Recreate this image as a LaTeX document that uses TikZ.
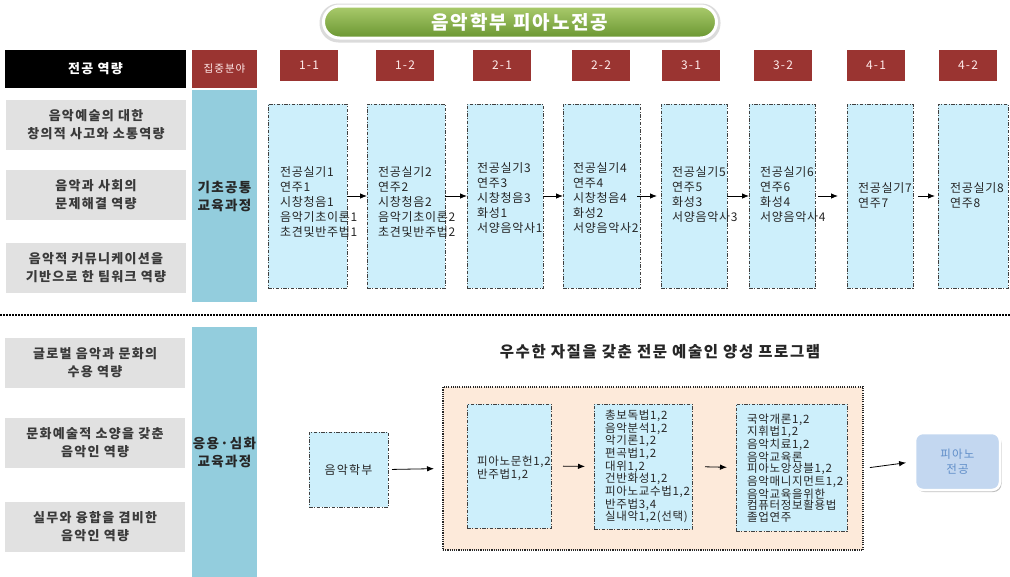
\documentclass[tikz,border=0pt]{standalone}
\usepackage{fontspec}
\setmainfont{Noto Sans CJK KR}
\newfontfamily\ksp[LetterSpace=10]{Noto Sans CJK KR}
\newfontfamily\kcell[LetterSpace=6]{Noto Sans CJK KR}
\usetikzlibrary{arrows.meta,shadows}
\definecolor{hdrred}{HTML}{9A3431}
\definecolor{grayb}{HTML}{E1E1E1}
\definecolor{colblue}{HTML}{93CDDD}
\definecolor{cellblue}{HTML}{CDEFFB}
\definecolor{cream}{HTML}{FDEADA}
\definecolor{pianofill}{HTML}{C3D7F0}
\definecolor{pianotext}{HTML}{5F8DC8}
\definecolor{graytext}{HTML}{3A3A3A}
\definecolor{gtop}{HTML}{AACB6C}
\definecolor{gbot}{HTML}{6A9631}
\begin{document}
\begin{tikzpicture}[x=1pt,y=-1pt,
  every node/.style={inner sep=0pt, outer sep=0pt},
  hdr/.style={fill=hdrred, minimum width=58pt, minimum height=31pt, anchor=north west, text=white!92!red, font=\ksp\fontsize{12}{13}\selectfont},
  comp/.style={fill=grayb, minimum width=180pt, minimum height=50pt, anchor=north west, text=graytext, font=\ksp\bfseries\fontsize{13}{18}\selectfont, align=center},
  colb/.style={fill=colblue, minimum width=65pt, anchor=north west, text=black!85, font=\ksp\bfseries\fontsize{13.5}{18}\selectfont, align=center},
  dashdot/.style={draw=black!75, line width=0.6pt, dash pattern=on 3.5pt off 1.5pt on 1pt off 1.5pt},
  cell/.style={dashdot, fill=cellblue, anchor=north west, minimum height=184pt},
  celltxt/.style={anchor=west, align=left, text=black!85, font=\kcell\fontsize{12}{15}\selectfont},
  smalltxt/.style={anchor=west, align=left, text=black!85, font=\kcell\fontsize{11.5}{11.6}\selectfont},
  arr/.style={-{Latex[length=7pt,width=5.5pt]}, line width=0.8pt}
]
\useasboundingbox (0,0) rectangle (1010,576);
% title
\node[minimum width=401pt, minimum height=39pt, rounded corners=19pt, fill=black!14] (titleglow) at (520,23) {};
\node[minimum width=393pt, minimum height=32pt, rounded corners=16pt, top color=gtop, bottom color=gbot, draw=white, line width=3pt, text=white, font=\ksp\bfseries\fontsize{19}{20}\selectfont] (title) at (520,22) {음악학부 피아노전공};
% header row
\node[fill=black, minimum width=181pt, minimum height=38pt, anchor=north west, text=white, font=\ksp\bfseries\fontsize{13}{15}\selectfont] (hcomp) at (5,50) {전공 역량};
\node[hdr, minimum width=65pt, minimum height=38pt, font=\ksp\fontsize{10.5}{12}\selectfont] (hfocus) at (192,50) {집중분야};
\node[hdr] (s11) at (280,50) {1-1};
\node[hdr] (s12) at (376,50) {1-2};
\node[hdr] (s21) at (473,50) {2-1};
\node[hdr] (s22) at (572,50) {2-2};
\node[hdr] (s31) at (662,50) {3-1};
\node[hdr] (s32) at (754,50) {3-2};
\node[hdr] (s41) at (847,50) {4-1};
\node[hdr] (s42) at (939,50) {4-2};
% competencies upper
\node[comp] (c1) at (6,100) {음악예술의 대한\\창의적 사고와 소통역량};
\node[comp] (c2) at (6,170) {음악과 사회의\\문제해결 역량};
\node[comp] (c3) at (6,243) {음악적 커뮤니케이션을\\기반으로 한 팀워크 역량};
\node[colb, minimum height=212pt] (basic) at (192,90) {기초공통\\교육과정};
% separator
\coordinate (sepL) at (0,315);
\coordinate (sepR) at (1010,315);
\draw[line width=1.1pt, dash pattern=on 1.5pt off 1.5pt] (sepL) -- (sepR);
% competencies lower
\node[comp] (c4) at (5,338) {글로벌 음악과 문화의\\수용 역량};
\node[comp] (c5) at (5,418) {문화예술적 소양을 갖춘\\음악인 역량};
\node[comp] (c6) at (5,502) {실무와 융합을 겸비한\\음악인 역량};
\node[colb, minimum height=250pt] (adv) at (192,327) {응용·심화\\교육과정};
% semester cells
\node[cell, minimum width=79pt] (b1) at (268,104) {};
\node[cell, minimum width=78pt] (b2) at (367,104) {};
\node[cell, minimum width=76pt] (b3) at (467,104) {};
\node[cell, minimum width=77pt] (b4) at (563,104) {};
\node[cell, minimum width=66pt] (b5) at (661,104) {};
\node[cell, minimum width=66pt] (b6) at (749,104) {};
\node[cell, minimum width=66pt] (b7) at (847,104) {};
\node[cell, minimum width=70pt] (b8) at (938,104) {};
\node[celltxt] (t1) at (280,202) {전공실기1\\연주1\\시창청음1\\음악기초이론1\\초견및반주법1};
\node[celltxt] (t2) at (378,202) {전공실기2\\연주2\\시창청음2\\음악기초이론2\\초견및반주법2};
\node[celltxt] (t3) at (477,198) {전공실기3\\연주3\\시창청음3\\화성1\\서양음악사1};
\node[celltxt] (t4) at (573,198) {전공실기4\\연주4\\시창청음4\\화성2\\서양음악사2};
\node[celltxt] (t5) at (672,195) {전공실기5\\연주5\\화성3\\서양음악사3};
\node[celltxt] (t6) at (760,195) {전공실기6\\연주6\\화성4\\서양음악사4};
\node[celltxt] (t7) at (858,195) {전공실기7\\연주7};
\node[celltxt] (t8) at (950,195) {전공실기8\\연주8};
\draw[arr] (b1.east) -- (b2.west);
\draw[arr] (b2.east) -- (b3.west);
\draw[arr] (b3.east) -- (b4.west);
\draw[arr, shorten <=-3pt, shorten >=4pt] (b4.east) -- (b5.west);
\draw[arr] (b5.east) -- (b6.west);
\draw[arr, shorten <=3pt, shorten >=9pt] (b6.east) -- (b7.west);
\draw[arr, shorten <=5pt, shorten >=3pt] (b7.east) -- (b8.west);
% lower program
\node[font=\ksp\bfseries\fontsize{15.5}{17}\selectfont, text=black!85] (ptitle) at (660,352) {우수한 자질을 갖춘 전문 예술인 양성 프로그램};
\node[fill=cream, draw=black!85, line width=1.3pt, dash pattern=on 1.1pt off 1.1pt, minimum width=420pt, minimum height=163pt, anchor=north west] (prog) at (443,387) {};
\node[dashdot, fill=cellblue, minimum width=79pt, minimum height=75pt, anchor=north west, font=\ksp\fontsize{12}{15}\selectfont, text=black!85] (dept) at (309,432) {음악학부};
\node[dashdot, fill=cellblue, minimum width=84pt, minimum height=124pt, anchor=north west] (pa) at (467,404) {};
\node[dashdot, fill=cellblue, minimum width=98pt, minimum height=125pt, anchor=north west] (pb) at (594,404) {};
\node[dashdot, fill=cellblue, minimum width=111pt, minimum height=127pt, anchor=north west] (pc) at (736,404) {};
\node[smalltxt, font=\kcell\fontsize{11.5}{13.5}\selectfont] (ta) at (477,468.5) {피아노문헌1,2\\반주법1,2};
\node[smalltxt] (tb) at (605,466.5) {총보독법1,2\\음악분석1,2\\악기론1,2\\편곡법1,2\\대위1,2\\건반화성1,2\\피아노교수법1,2\\반주법3,4\\실내악1,2(선택)};
\node[smalltxt] (tc) at (747,468) {국악개론1,2\\지휘법1,2\\음악치료1,2\\음악교육론\\피아노앙상블1,2\\음악매니지먼트1,2\\음악교육을위한\\컴퓨터정보활용법\\졸업연주};
\node[minimum width=85pt, minimum height=57pt, rounded corners=8pt, fill=pianofill, draw=white, line width=2.5pt, drop shadow={shadow xshift=1.5pt, shadow yshift=-2pt, fill=black!45, opacity=0.55}, align=center, text=pianotext, font=\ksp\fontsize{11.5}{15}\selectfont, anchor=north west] (piano) at (915,433) {피아노\\전공};
\draw[arr, shorten <=4pt, shorten >=9pt] (dept.east) -- (prog.west);
\draw[arr, shorten <=12pt, shorten >=9pt] (pa.east) -- (pb.west);
\draw[arr, shorten <=13pt, shorten >=9pt] (pb.east) -- (pc.west);
\draw[arr, shorten <=7pt, shorten >=9pt] (prog.east) -- (piano.west);
\end{tikzpicture}
\end{document}
